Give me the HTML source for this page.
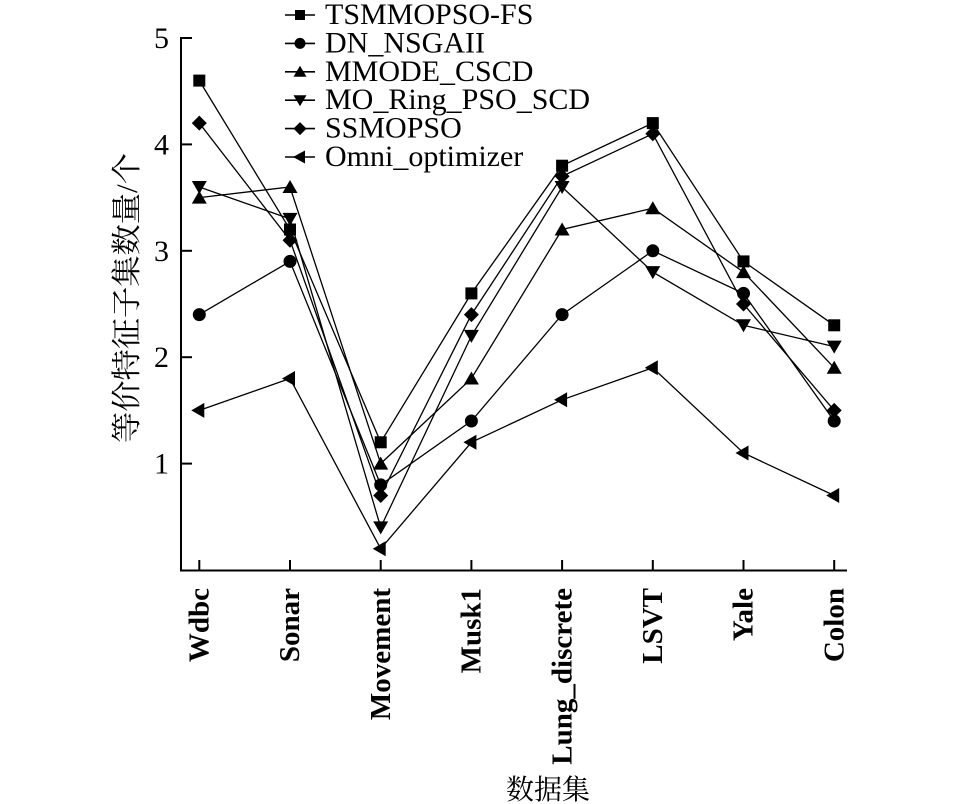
<!DOCTYPE html>
<html>
<head>
<meta charset="utf-8">
<style>
html,body{margin:0;padding:0;background:#fff;}
svg{display:block;}
</style>
</head>
<body>
<svg width="958" height="804" viewBox="0 0 958 804" xmlns="http://www.w3.org/2000/svg">
<defs>
  <rect id="sq" x="-6" y="-6" width="12" height="12" fill="#000"/>
  <circle id="ci" cx="0" cy="0" r="6.5" fill="#000"/>
  <polygon id="tu" points="0,-7 7.5,6 -7.5,6" fill="#000"/>
  <polygon id="td" points="0,7 7.5,-6 -7.5,-6" fill="#000"/>
  <polygon id="di" points="0,-7.5 7.5,0 0,7.5 -7.5,0" fill="#000"/>
  <polygon id="tl" points="-8,0 5,-7.5 5,7.5" fill="#000"/>
  <rect id="lsq" x="-5" y="-5" width="10" height="10" fill="#000"/>
  <circle id="lci" cx="0" cy="0" r="5.5" fill="#000"/>
  <polygon id="ltu" points="0,-6 6.5,5 -6.5,5" fill="#000"/>
  <polygon id="ltd" points="0,6 6.5,-5 -6.5,-5" fill="#000"/>
  <polygon id="ldi" points="0,-6.5 6.5,0 0,6.5 -6.5,0" fill="#000"/>
  <polygon id="ltl" points="-7,0 5,-6.5 5,6.5" fill="#000"/>
</defs>

<!-- axes -->
<g stroke="#000" stroke-width="2" fill="none">
  <line x1="181" y1="37" x2="181" y2="571"/>
  <line x1="180" y1="570.5" x2="847" y2="570.5"/>
  <line x1="181" y1="38" x2="192" y2="38"/>
  <line x1="181" y1="144.4" x2="192" y2="144.4"/>
  <line x1="181" y1="250.8" x2="192" y2="250.8"/>
  <line x1="181" y1="357.2" x2="192" y2="357.2"/>
  <line x1="181" y1="463.6" x2="192" y2="463.6"/>
  <line x1="199.3" y1="570" x2="199.3" y2="560"/>
  <line x1="290.0" y1="570" x2="290.0" y2="560"/>
  <line x1="380.7" y1="570" x2="380.7" y2="560"/>
  <line x1="471.4" y1="570" x2="471.4" y2="560"/>
  <line x1="562.1" y1="570" x2="562.1" y2="560"/>
  <line x1="652.8" y1="570" x2="652.8" y2="560"/>
  <line x1="743.5" y1="570" x2="743.5" y2="560"/>
  <line x1="834.2" y1="570" x2="834.2" y2="560"/>
</g>

<!-- y tick labels -->
<g font-family="'Liberation Serif', serif" font-size="30" fill="#000" text-anchor="end">
  <text x="169" y="48">5</text>
  <text x="169" y="154.4">4</text>
  <text x="169" y="260.8">3</text>
  <text x="169" y="367.2">2</text>
  <text x="169" y="473.6">1</text>
</g>

<!-- y axis title -->
<text transform="translate(137,298) rotate(-90)" text-anchor="middle" font-family="'Liberation Serif','Noto Serif CJK SC',serif" font-size="30" fill="#000" textLength="290" lengthAdjust="spacingAndGlyphs">等价特征子集数量/个</text>

<!-- x tick labels -->
<g font-family="'Liberation Serif', serif" font-size="29" font-weight="bold" fill="#000" text-anchor="end">
  <text transform="translate(208.5,588) rotate(-90)">Wdbc</text>
  <text transform="translate(299.2,588) rotate(-90)">Sonar</text>
  <text transform="translate(389.9,588) rotate(-90)">Movement</text>
  <text transform="translate(480.6,588) rotate(-90)">Musk1</text>
  <text transform="translate(571.3,588) rotate(-90)">Lung_discrete</text>
  <text transform="translate(662.0,588) rotate(-90)">LSVT</text>
  <text transform="translate(752.7,588) rotate(-90)">Yale</text>
  <text transform="translate(843.4,588) rotate(-90)">Colon</text>
</g>

<!-- x axis title -->
<text x="548" y="799" text-anchor="middle" font-family="'Liberation Serif','Noto Serif CJK SC',serif" font-size="28" fill="#000">数据集</text>

<!-- series lines -->
<g stroke="#000" stroke-width="1.3" fill="none">
  <polyline points="199.3,80.6 290.0,229.5 380.7,442.3 471.4,293.4 562.1,165.7 652.8,123.1 743.5,261.4 834.2,325.3"/>
  <polyline points="199.3,314.6 290.0,261.4 380.7,484.9 471.4,421.0 562.1,314.6 652.8,250.8 743.5,293.4 834.2,421.0"/>
  <polyline points="199.3,197.6 290.0,187.0 380.7,463.6 471.4,378.5 562.1,229.5 652.8,208.2 743.5,272.1 834.2,367.8"/>
  <polyline points="199.3,187.0 290.0,218.9 380.7,527.4 471.4,335.9 562.1,187.0 652.8,272.1 743.5,325.3 834.2,346.6"/>
  <polyline points="199.3,123.1 290.0,240.2 380.7,495.5 471.4,314.6 562.1,176.3 652.8,133.8 743.5,304.0 834.2,410.4"/>
  <polyline points="199.3,410.4 290.0,378.5 380.7,548.7 471.4,442.3 562.1,399.8 652.8,367.8 743.5,453.0 834.2,495.5"/>
</g>

<!-- markers -->
<g>
  <use href="#sq" x="199.3" y="80.6"/><use href="#sq" x="290.0" y="229.5"/><use href="#sq" x="380.7" y="442.3"/><use href="#sq" x="471.4" y="293.4"/><use href="#sq" x="562.1" y="165.7"/><use href="#sq" x="652.8" y="123.1"/><use href="#sq" x="743.5" y="261.4"/><use href="#sq" x="834.2" y="325.3"/>
  <use href="#ci" x="199.3" y="314.6"/><use href="#ci" x="290.0" y="261.4"/><use href="#ci" x="380.7" y="484.9"/><use href="#ci" x="471.4" y="421.0"/><use href="#ci" x="562.1" y="314.6"/><use href="#ci" x="652.8" y="250.8"/><use href="#ci" x="743.5" y="293.4"/><use href="#ci" x="834.2" y="421.0"/>
  <use href="#tu" x="199.3" y="197.6"/><use href="#tu" x="290.0" y="187.0"/><use href="#tu" x="380.7" y="463.6"/><use href="#tu" x="471.4" y="378.5"/><use href="#tu" x="562.1" y="229.5"/><use href="#tu" x="652.8" y="208.2"/><use href="#tu" x="743.5" y="272.1"/><use href="#tu" x="834.2" y="367.8"/>
  <use href="#td" x="199.3" y="187.0"/><use href="#td" x="290.0" y="218.9"/><use href="#td" x="380.7" y="527.4"/><use href="#td" x="471.4" y="335.9"/><use href="#td" x="562.1" y="187.0"/><use href="#td" x="652.8" y="272.1"/><use href="#td" x="743.5" y="325.3"/><use href="#td" x="834.2" y="346.6"/>
  <use href="#di" x="199.3" y="123.1"/><use href="#di" x="290.0" y="240.2"/><use href="#di" x="380.7" y="495.5"/><use href="#di" x="471.4" y="314.6"/><use href="#di" x="562.1" y="176.3"/><use href="#di" x="652.8" y="133.8"/><use href="#di" x="743.5" y="304.0"/><use href="#di" x="834.2" y="410.4"/>
  <use href="#tl" x="199.3" y="410.4"/><use href="#tl" x="290.0" y="378.5"/><use href="#tl" x="380.7" y="548.7"/><use href="#tl" x="471.4" y="442.3"/><use href="#tl" x="562.1" y="399.8"/><use href="#tl" x="652.8" y="367.8"/><use href="#tl" x="743.5" y="453.0"/><use href="#tl" x="834.2" y="495.5"/>
</g>

<!-- legend -->
<g stroke="#000" stroke-width="1.6">
  <line x1="285" y1="15" x2="315" y2="15"/>
  <line x1="285" y1="43.4" x2="315" y2="43.4"/>
  <line x1="285" y1="71.8" x2="315" y2="71.8"/>
  <line x1="285" y1="100.2" x2="315" y2="100.2"/>
  <line x1="285" y1="128.6" x2="315" y2="128.6"/>
  <line x1="285" y1="157" x2="315" y2="157"/>
</g>
<use href="#lsq" x="300" y="15"/>
<use href="#lci" x="300" y="43.4"/>
<use href="#ltu" x="300" y="71.8"/>
<use href="#ltd" x="300" y="100.2"/>
<use href="#ldi" x="300" y="128.6"/>
<use href="#ltl" x="300" y="157"/>
<g font-family="'Liberation Serif', serif" font-size="30" fill="#000">
  <text x="325" y="24">TSMMOPSO-FS</text>
  <text x="325" y="52.4">DN_NSGAII</text>
  <text x="325" y="80.8">MMODE_CSCD</text>
  <text x="325" y="109.2">MO_Ring_PSO_SCD</text>
  <text x="325" y="137.6">SSMOPSO</text>
  <text x="325" y="166">Omni_optimizer</text>
</g>
</svg>
</body>
</html>
